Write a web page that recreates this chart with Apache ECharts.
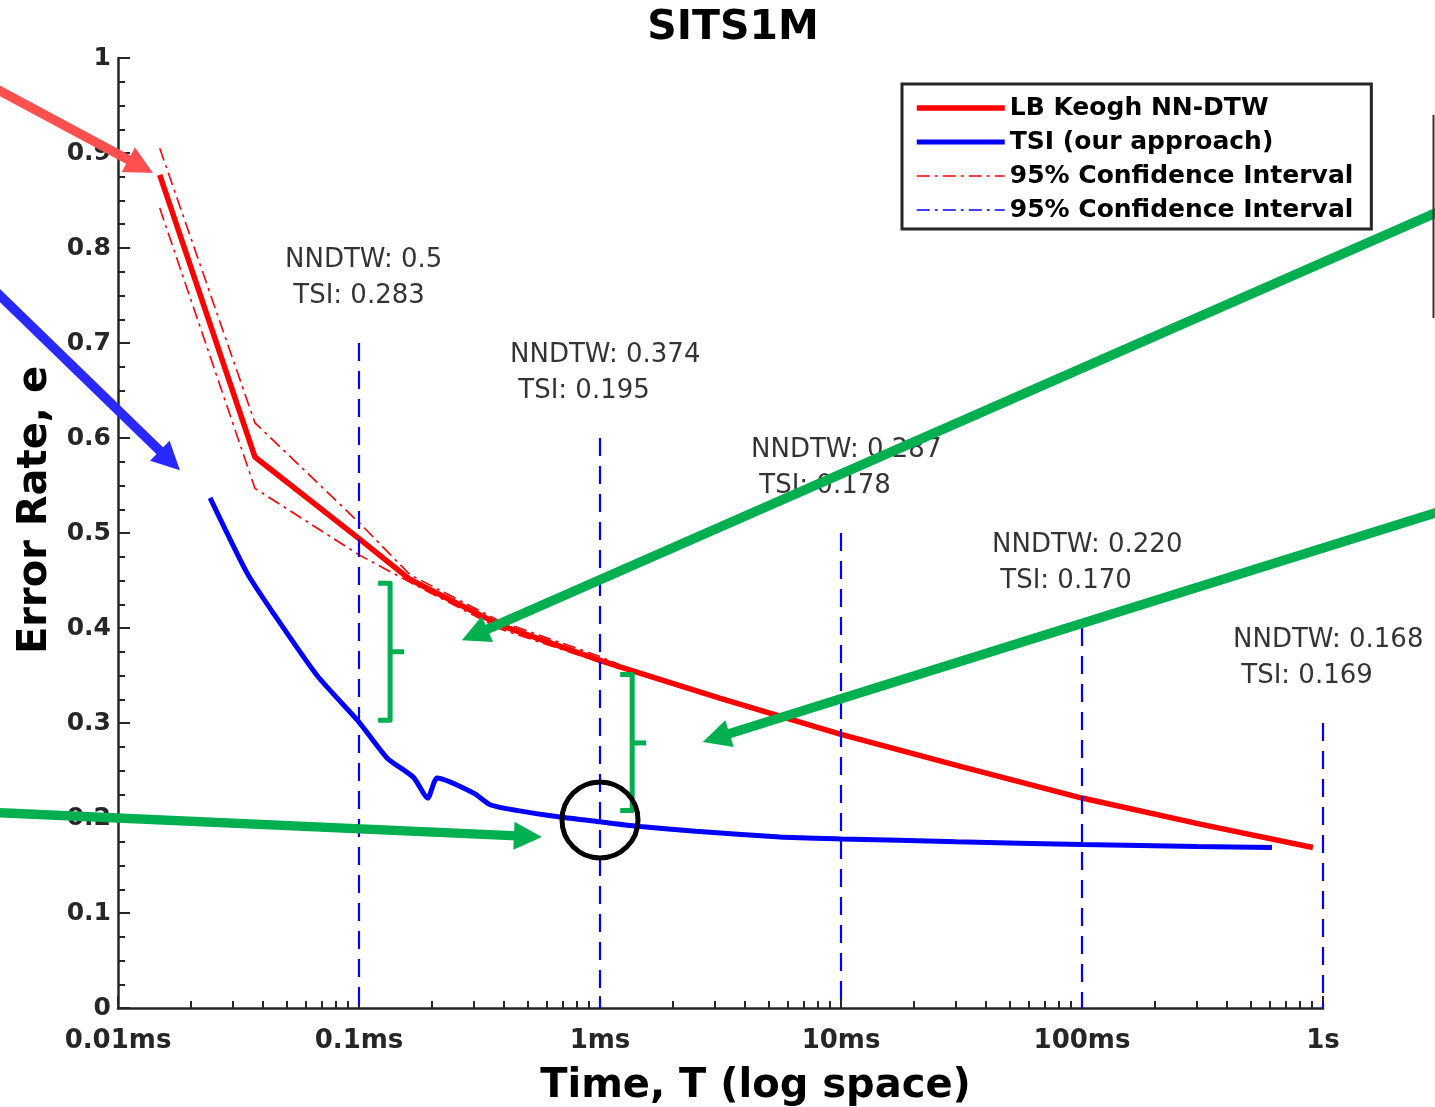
<!DOCTYPE html>
<html><head><meta charset="utf-8">
<script src="https://cdn.jsdelivr.net/npm/echarts@6/dist/echarts.min.js"></script>
<style>html,body{margin:0;padding:0;background:#fff}#c{width:1435px;height:1107px}</style>
</head><body><div id="c"></div>
<script>
// ---- axis ticks ----
const xTickValues = [0.01, 0.1, 1, 10, 100, 1000];
const xTickLabels = ['0.01ms', '0.1ms', '1ms', '10ms', '100ms', '1s'];
const xMinorTicks = [];
xTickValues.slice(0, -1).forEach(d => { for (let k = 2; k <= 9; k++) xMinorTicks.push(+(d * k).toPrecision(6)); });

// ---- LB Keogh NN-DTW (time in ms, error rate) ----
const nndtwT = [0.0149, 0.037, 0.1, 0.163, 0.385, 1.0, 1.21, 3.16, 10, 31.6, 100, 316, 908];
const nndtwE = [0.877, 0.580, 0.494, 0.451, 0.403, 0.366, 0.359, 0.326, 0.288, 0.254, 0.221, 0.193, 0.169];
// 95% confidence interval of NN-DTW
const ciT = [0.0149, 0.037, 0.1, 0.163, 0.385, 1.0, 1.21];
const ciUpperE = [0.905, 0.616, 0.511, 0.456, 0.407, 0.370, 0.361];
const ciLowerE = [0.842, 0.547, 0.477, 0.448, 0.399, 0.364, 0.357];

// ---- TSI (our approach) ----
const tsiT = [0.0241, 0.0343, 0.044, 0.067, 0.1, 0.131, 0.168, 0.193, 0.211, 0.3, 0.35, 0.45, 0.683, 1.0, 1.47, 2.5, 5.58, 10, 30, 100, 300, 614];
const tsiE = [0.537, 0.458, 0.416, 0.350, 0.301, 0.263, 0.243, 0.221, 0.242, 0.226, 0.214, 0.208, 0.201, 0.196, 0.191, 0.186, 0.180, 0.178, 0.175, 0.172, 0.170, 0.169];

// ---- vertical markers and their annotations ----
const markT = [0.1, 1, 10, 100, 1000];
const markTop = [0.7, 0.6, 0.5, 0.4, 0.3];
const markNNDTW = ['0.5', '0.374', '0.287', '0.220', '0.168'];
const markTSI = ['0.283', '0.195', '0.178', '0.170', '0.169'];
const markLabelShift = [-74, -90, -90, -90, -90];

// ---- overlay annotations (data units) ----
const arrowFromT = [0.003, 0.003, 0.003, 3000, 3000];
const arrowFromE = [0.970, 0.758, 0.206, 0.838, 0.522];
const arrowToT = [0.01397, 0.01807, 0.574, 0.267, 2.67];
const arrowToE = [0.879, 0.566, 0.180, 0.387, 0.280];
const arrowColors = ['#FF5050', '#2828FF', '#00B050', '#00B050', '#00B050'];
const bracketT = [0.1346, 1.36];
const bracketTop = [0.447, 0.351];
const bracketBottom = [0.303, 0.208];
const bracketMid = [0.375, 0.279];
const circleT = [1.0];
const circleE = [0.198];

const FONT = 'DejaVu Sans';
const AX = '#262626';
const pairs = (t, e) => t.map((v, i) => [v, e[i]]);
const legendNames = {
  'LB Keogh NN-DTW': 'LB Keogh NN-DTW',
  'TSI (our approach)': 'TSI (our approach)',
  'ciRed': '95% Confidence Interval',
  'ciBlue': '95% Confidence Interval'
};
const dashDot = [13, 5, 3, 5];

const chart = echarts.init(document.getElementById('c'), null, {renderer: 'canvas'});
const series = [];
series.push({name: 'ciRed', type: 'line', data: pairs(ciT, ciUpperE), symbol: 'none', lineStyle: {color: '#FF0000', width: 1.6, type: dashDot}, itemStyle: {color: '#FF0000'}, z: 2});
series.push({name: 'ciRed', type: 'line', data: pairs(ciT, ciLowerE), symbol: 'none', lineStyle: {color: '#FF0000', width: 1.6, type: dashDot}, itemStyle: {color: '#FF0000'}, z: 2});
series.push({name: 'ciBlue', type: 'line', data: [], symbol: 'none', lineStyle: {color: '#0000FF', width: 1.6, type: dashDot}, itemStyle: {color: '#0000FF'}, z: 2});
series.push({name: 'LB Keogh NN-DTW', type: 'line', data: pairs(nndtwT, nndtwE), symbol: 'none', lineStyle: {color: '#FF0000', width: 5.5}, itemStyle: {color: '#FF0000'}, z: 3});
series.push({name: 'TSI (our approach)', type: 'line', data: pairs(tsiT, tsiE), symbol: 'none', smooth: 0.2, lineStyle: {color: '#0000FF', width: 5}, itemStyle: {color: '#0000FF'}, z: 3});
markT.forEach((t, i) => {
  series.push({name: 'mark' + i, type: 'line', data: [[t, markTop[i]], [t, 0]], symbol: 'none', silent: true,
    lineStyle: {color: '#0000FF', width: 2.2, type: [18, 10]}, z: 4});
});
series.push({name: 'annot', type: 'scatter', data: pairs(markT, markTop), symbolSize: 1, silent: true,
  itemStyle: {color: 'rgba(0,0,0,0)'},
  label: {show: true, position: 'top', distance: 0, align: 'left', verticalAlign: 'bottom',
    formatter: p => 'NNDTW: ' + markNNDTW[p.dataIndex] + '\n TSI: ' + markTSI[p.dataIndex],
    fontFamily: FONT, fontSize: 26, lineHeight: 36, color: '#000'},
  labelLayout: p => ({dx: markLabelShift[p.dataIndex], dy: -28}),
  z: 6});

chart.setOption({
  animation: false,
  backgroundColor: '#ffffff',
  textStyle: {fontFamily: FONT},
  title: {text: 'SITS1M', left: 728, top: 3, textAlign: 'center',
    textStyle: {fontFamily: FONT, fontSize: 41, fontWeight: 'bold', color: '#000'}},
  grid: {left: 118, right: 112, top: 58, bottom: 99, containLabel: false, outerBoundsMode: 'none'},
  legend: {
    data: ['LB Keogh NN-DTW', 'TSI (our approach)', 'ciRed', 'ciBlue'],
    formatter: n => legendNames[n],
    orient: 'vertical', left: 902, top: 84, itemWidth: 88, itemHeight: 14, itemGap: 6,
    padding: [10, 18, 5, 12], borderColor: AX, borderWidth: 3, backgroundColor: '#fff',
    selectedMode: false,
    lineStyle: {width: 'inherit'},
    itemStyle: {color: 'rgba(0,0,0,0)', borderColor: 'rgba(0,0,0,0)', borderWidth: 0, opacity: 0},
    textStyle: {fontFamily: FONT, fontSize: 25, fontWeight: 'bold', color: '#000', lineHeight: 28}
  },
  xAxis: [{
    type: 'log', logBase: 10, min: 0.01, max: 1000,
    name: 'Time, T (log space)', nameLocation: 'middle', nameGap: 59,
    nameTextStyle: {fontFamily: FONT, fontSize: 40, fontWeight: 'bold', color: '#000', padding: [0, 0, 0, 70]},
    axisLine: {show: true, onZero: false, lineStyle: {color: AX, width: 2.5}},
    axisTick: {show: true, inside: true, length: 12, customValues: xTickValues, lineStyle: {color: AX, width: 2}},
    minorTick: {show: false},
    axisLabel: {show: true, customValues: xTickValues, margin: 20, fontFamily: FONT, fontSize: 26, fontWeight: 'bold', color: AX,
      formatter: v => { let b = 0, bd = 1e9; xTickValues.forEach((tv, i) => { const d = Math.abs(Math.log10(v) - Math.log10(tv)); if (d < bd) { bd = d; b = i; } }); return xTickLabels[b]; }},
    splitLine: {show: false}
  }, {
    type: 'log', logBase: 10, min: 0.01, max: 1000, position: 'bottom', offset: 0,
    axisLine: {show: false},
    axisTick: {show: true, inside: true, length: 7, customValues: xMinorTicks, lineStyle: {color: AX, width: 2}},
    axisLabel: {show: false},
    splitLine: {show: false}
  }],
  yAxis: {
    type: 'value', min: 0, max: 1, interval: 0.1,
    name: 'Error Rate, e', nameLocation: 'middle', nameGap: 55, nameRotate: 90,
    nameTextStyle: {fontFamily: FONT, fontSize: 40, fontWeight: 'bold', color: '#000', padding: [0, 0, 0, 46]},
    axisLine: {show: true, lineStyle: {color: AX, width: 2.5}},
    axisTick: {show: true, inside: true, length: 12, lineStyle: {color: AX, width: 2}},
    minorTick: {show: true, splitNumber: 4, length: 7, lineStyle: {color: AX, width: 2}},
    axisLabel: {margin: 7, fontFamily: FONT, fontSize: 25, fontWeight: 'bold', color: AX},
    splitLine: {show: false}
  },
  series: series
});

// overlay annotations positioned through the chart's own scales
const px = (t, e) => chart.convertToPixel({xAxisIndex: 0, yAxisIndex: 0}, [t, e]);
const g = [];
arrowFromT.forEach((_, i) => {
  const a = px(arrowFromT[i], arrowFromE[i]), b = px(arrowToT[i], arrowToE[i]);
  const dx = b[0] - a[0], dy = b[1] - a[1], L = Math.hypot(dx, dy), ux = dx / L, uy = dy / L;
  const hl = 28, hw = 14, c = arrowColors[i];
  const bx = b[0] - ux * hl, by = b[1] - uy * hl;
  g.push({type: 'line', silent: true, z: 100, shape: {x1: a[0], y1: a[1], x2: bx + ux * 3, y2: by + uy * 3}, style: {stroke: c, lineWidth: 9.5}});
  g.push({type: 'polygon', silent: true, z: 100, shape: {points: [[b[0], b[1]], [bx - uy * hw, by + ux * hw], [bx + uy * hw, by - ux * hw]]}, style: {fill: c}});
});
bracketT.forEach((t, i) => {
  const top = px(t, bracketTop[i]), bot = px(t, bracketBottom[i]), mid = px(t, bracketMid[i]);
  g.push({type: 'polyline', silent: true, z: 100, shape: {points: [[top[0] - 12, top[1]], [top[0], top[1]], [bot[0], bot[1]], [bot[0] - 12, bot[1]]]},
    style: {stroke: '#00B050', lineWidth: 5, fill: null, lineJoin: 'round'}});
  g.push({type: 'line', silent: true, z: 100, shape: {x1: mid[0], y1: mid[1], x2: mid[0] + 14, y2: mid[1]}, style: {stroke: '#00B050', lineWidth: 5}});
});
circleT.forEach((t, i) => {
  const c = px(t, circleE[i]);
  g.push({type: 'circle', silent: true, z: 100, shape: {cx: c[0], cy: c[1], r: 38}, style: {fill: null, stroke: '#000', lineWidth: 5}});
});
g.push({type: 'line', silent: true, z: 100, shape: {x1: 1433.5, y1: 115, x2: 1433.5, y2: 318}, style: {stroke: '#333', lineWidth: 2}});
chart.setOption({graphic: g});
</script>
</body></html>
